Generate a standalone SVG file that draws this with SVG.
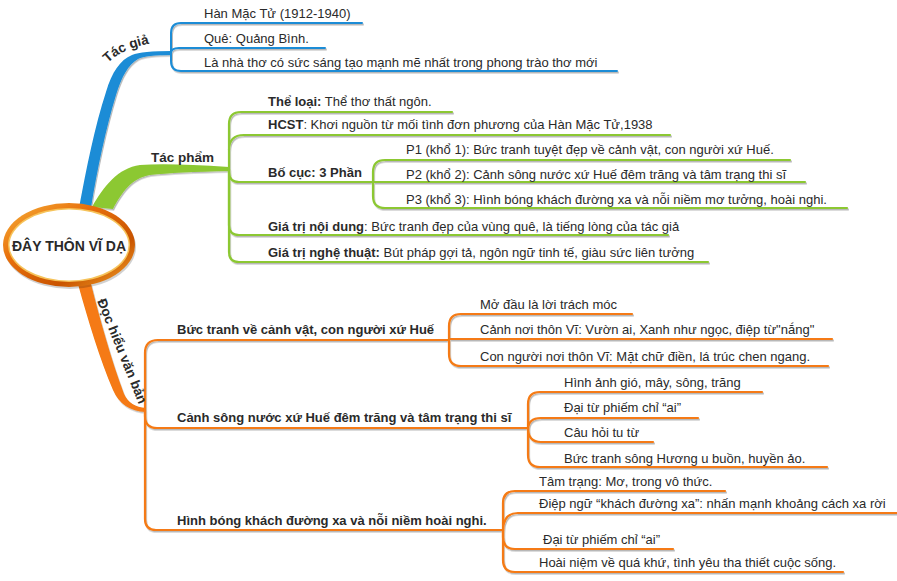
<svg xmlns="http://www.w3.org/2000/svg" width="897" height="581" viewBox="0 0 897 581">
<style>
text{font-family:"Liberation Sans",Arial,sans-serif;font-size:13px;fill:#2a2a2a}
.b{font-weight:bold}
.lbl{font-weight:bold;font-size:13.5px}
.bl{fill:none;stroke:#1a8cd6;stroke-width:2;stroke-linecap:round}
.gr{fill:none;stroke:#8cc832;stroke-width:2.2;stroke-linecap:round}
.or{fill:none;stroke:#f57a12;stroke-width:2.2;stroke-linecap:round}
</style>
<defs>
<filter id="sh" filterUnits="userSpaceOnUse" x="0" y="0" width="897" height="581">
<feDropShadow dx="1" dy="1.5" stdDeviation="0.7" flood-color="#000" flood-opacity="0.28"/>
</filter>
<linearGradient id="ring" x1="0" y1="0" x2="1" y2="1">
<stop offset="0" stop-color="#f7b23a"/>
<stop offset="0.35" stop-color="#e8700c"/>
<stop offset="0.7" stop-color="#c95400"/>
<stop offset="1" stop-color="#f4a62a"/>
</linearGradient>
<path id="tgPath" d="M108,63 Q126,44 172,41"/>
</defs>

<g id="connectors" filter="url(#sh)">
<!-- main branches -->
<path fill="#1a8cd6" d="M79,208 C86,170 95,125 106,92 C112,72 120,60 132,55 Q142,51 172,51 L172,55 Q146,55 138,59 C128,65 122,76 116,95 C106,128 97,170 91,208 Z"/>
<path fill="#8cc832" d="M92,207 C104,186 118,168 140,165 Q170,163 229,167 L229,171 Q176,172 150,175 C132,178 122,192 113,209 Z"/>
<path fill="#f57a12" d="M78,284 C88,320 100,360 113,390 Q122,411 146,412 L146,408 Q130,407 124,394 C112,362 100,320 91,284 Z"/>
<!-- blue -->
<path class="bl" d="M171,53 V33 Q171,23 181,23 H362"/>
<path class="bl" d="M171,53 Q171,48 179,48 H325"/>
<path class="bl" d="M171,53 V61 Q171,71 181,71 H617"/>
<!-- green -->
<path class="gr" d="M229,169 V124 Q229,112 241,112 H452"/>
<path class="gr" d="M229,150 Q229,135 244,135 H670"/>
<path class="gr" d="M229,169 V172 Q229,182 239,182 H373"/>
<path class="gr" d="M229,169 V225 Q229,235 239,235 H668"/>
<path class="gr" d="M229,169 V252 Q229,262 239,262 H708"/>
<path class="gr" d="M373,182 V172 Q373,160 385,160 H790"/>
<path class="gr" d="M373,182 H805"/>
<path class="gr" d="M373,182 V196 Q373,208 385,208 H847"/>
<!-- orange -->
<path class="or" d="M145,410 V353 Q145,340 158,340 H449"/>
<path class="or" d="M145,410 V416 Q145,428 157,428 H528"/>
<path class="or" d="M145,410 V519 Q145,530 156,530 H503"/>
<path class="or" d="M449,340 V326 Q449,314 461,314 H632"/>
<path class="or" d="M449,339 H832"/>
<path class="or" d="M449,340 V354 Q449,366 461,366 H828"/>
<path class="or" d="M528,428 V404 Q528,392 540,392 H762"/>
<path class="or" d="M528,430 Q528,418 541,418 H698"/>
<path class="or" d="M528,428 Q528,442 541,442 H653"/>
<path class="or" d="M528,428 V455 Q528,467 540,467 H827"/>
<path class="or" d="M503,530 V503 Q503,491 515,491 H725"/>
<path class="or" d="M503,531 Q503,513 518,513 H897"/>
<path class="or" d="M503,530 V537 Q503,549 515,549 H673"/>
<path class="or" d="M503,530 V560 Q503,572 515,572 H843"/>
</g>

<g id="center">
<ellipse cx="70" cy="247" rx="66" ry="42" fill="#000" opacity="0.18"/>
<ellipse cx="69" cy="245" rx="66" ry="42" fill="url(#ring)"/>
<ellipse cx="69" cy="245" rx="61" ry="37" fill="#f6c35a"/>
<ellipse cx="69" cy="245" rx="59.5" ry="35.5" fill="#ffffff"/>
<text class="b" x="69" y="251" text-anchor="middle" style="font-size:14px">ĐÂY THÔN VĨ DẠ</text>
</g>

<g id="tac-gia">
<text class="lbl"><textPath href="#tgPath">Tác giả</textPath></text>
<text x="204" y="18">Hàn Mặc Tử (1912-1940)</text>
<text x="204" y="43">Quê: Quảng Bình.</text>
<text x="204" y="67">Là nhà thơ có sức sáng tạo mạnh mẽ nhất trong phong trào thơ mới</text>
</g>

<g id="tac-pham">
<text class="lbl" x="151" y="162">Tác phẩm</text>
<text x="268" y="106"><tspan class="b">Thể loại:</tspan> Thể thơ thất ngôn.</text>
<text x="268" y="129"><tspan class="b">HCST</tspan>: Khơi nguồn từ mối tình đơn phương của Hàn Mặc Tử,1938</text>
<text class="b" x="268" y="177">Bố cục: 3 Phần</text>
<text x="406" y="154">P1 (khổ 1): Bức tranh tuyệt đẹp về cảnh vật, con người xứ Huế.</text>
<text x="406" y="179">P2 (khổ 2): Cảnh sông nước xứ Huế đêm trăng và tâm trạng thi sĩ</text>
<text x="406" y="204">P3 (khổ 3): Hình bóng khách đường xa và nỗi niềm mơ tưởng, hoài nghi.</text>
<text x="268" y="231"><tspan class="b">Giá trị nội dung</tspan>: Bức tranh đẹp của vùng quê, là tiếng lòng của tác giả</text>
<text x="268" y="257"><tspan class="b">Giá trị nghệ thuật:</tspan> Bút pháp gợi tả, ngôn ngữ tinh tế, giàu sức liên tưởng</text>
</g>

<g id="doc-hieu">
<text class="lbl" transform="translate(97,301) rotate(68)">Đọc hiểu văn bản</text>
</g>

<g id="buc-tranh">
<text class="b" x="177" y="334">Bức tranh về cảnh vật, con người xứ Huế</text>
<text x="480" y="309">Mở đầu là lời trách móc</text>
<text x="480" y="334">Cảnh nơi thôn Vĩ: Vườn ai, Xanh như ngọc, điệp từ"nắng"</text>
<text x="480" y="361">Con người nơi thôn Vĩ: Mặt chữ điền, lá trúc chen ngang.</text>
</g>

<g id="canh-song">
<text class="b" x="177" y="422">Cảnh sông nước xứ Huế đêm trăng và tâm trạng thi sĩ</text>
<text x="564" y="387">Hình ảnh gió, mây, sông, trăng</text>
<text x="564" y="412">Đại từ phiếm chỉ “ai”</text>
<text x="564" y="437">Câu hỏi tu từ</text>
<text x="564" y="463">Bức tranh sông Hương u buồn, huyền ảo.</text>
</g>

<g id="hinh-bong">
<text class="b" x="177" y="525">Hình bóng khách đường xa và nỗi niềm hoài nghi.</text>
<text x="539" y="486">Tâm trạng: Mơ, trong vô thức.</text>
<text x="539" y="508">Điệp ngữ “khách đường xa”: nhấn mạnh khoảng cách xa rời</text>
<text x="543" y="544">Đại từ phiếm chỉ “ai”</text>
<text x="539" y="567">Hoài niệm về quá khứ, tình yêu tha thiết cuộc sống.</text>
</g>
</svg>
